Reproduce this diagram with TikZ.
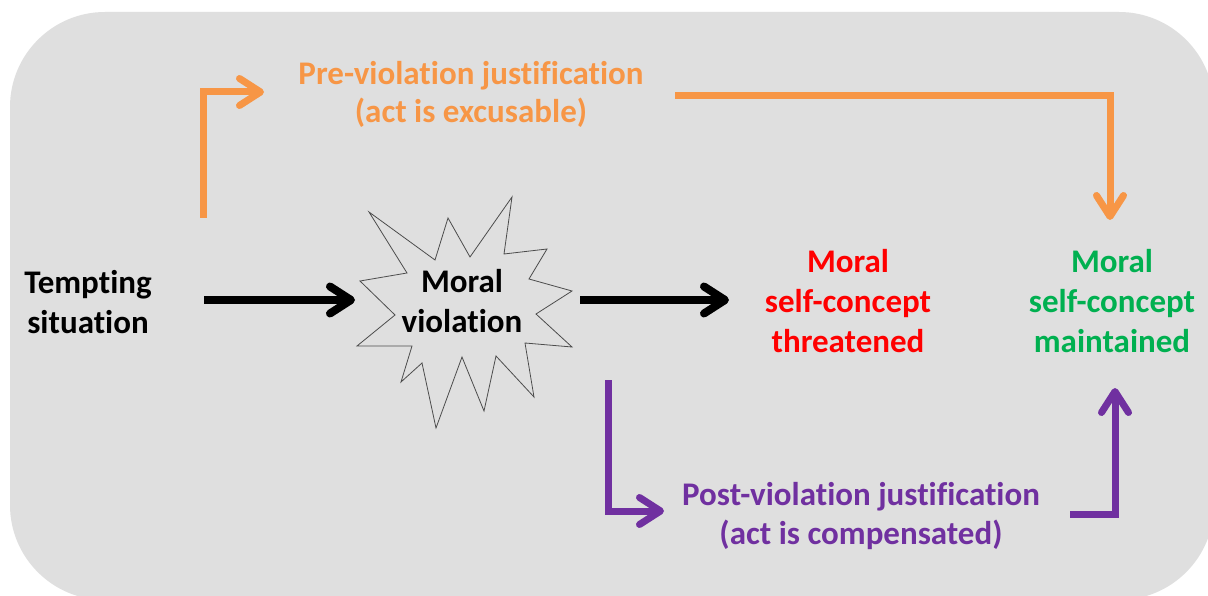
\documentclass[tikz,border=0pt]{standalone}
\usepackage{fontspec}
\setmainfont[Ligatures={NoCommon}]{Carlito}
\usetikzlibrary{arrows.meta}
\definecolor{bgc}{HTML}{DFDFDF}
\definecolor{orng}{HTML}{F79646}
\definecolor{purp}{HTML}{7030A0}
\definecolor{redc}{HTML}{FF0000}
\definecolor{grnc}{HTML}{00B050}
\begin{document}
\begin{tikzpicture}[x=1pt,y=-1pt,
  lbl/.style={font=\bfseries\fontsize{33}{40}\selectfont, align=center, inner sep=0pt},
  conn/.style={line width=#1, line join=miter,
    -{Straight Barb[length=21pt, width=27pt, line cap=round, line join=round]}},
  blkarrow/.style={conn=8pt, black},
  orarrow/.style={conn=7pt, orng},
  puarrow/.style={conn=7pt, purp}]
\useasboundingbox (0,0) rectangle (1208,596);
\fill[white] (0,0) rectangle (1208,596);
\fill[bgc, rounded corners=95pt] (10,12) rectangle (1214,600);

% starburst
\draw[gray!60!black, line width=0.8pt, line join=miter]
  (369,212) -- (435,260) -- (448,218) -- (470,257) -- (512,197) -- (504,254)
  -- (547,249) -- (529,279) -- (572,291) -- (536,314) -- (572,347) -- (525,343)
  -- (534,397) -- (496,356) -- (484,411) -- (462,357) -- (436,428) -- (422,363)
  -- (401,382) -- (412,346) -- (357,346) -- (395,315) -- (360,281) -- (407,273)
  -- cycle;

\node[lbl] (tempt) at (88,302) {Tempting\\situation};
\node[lbl] (viol) at (462,301) {Moral\\violation};
\node[lbl, text=redc] (threat) at (848,301) {Moral\\self-concept\\threatened};
\node[lbl, text=grnc] (maint) at (1112,301) {Moral\\self-concept\\maintained};
\node[lbl, text=orng, font=\bfseries\fontsize{33}{38}\selectfont] (pre) at (471,94) {Pre-violation justification\\(act is excusable)};
\node[lbl, text=purp, font=\bfseries\fontsize{33}{39}\selectfont] (post) at (861,516) {Post-violation justification\\(act is compensated)};

\coordinate (b1s) at (204,300);
\coordinate (b1e) at (355,300);
\coordinate (b2s) at (580,300);
\coordinate (b2e) at (729,300);
\coordinate (o1s) at (203,218);
\coordinate (o1c) at (203,92);
\coordinate (o1e) at (264,92);
\coordinate (o2s) at (675,96);
\coordinate (o2c) at (1110,96);
\coordinate (o2e) at (1110,220);
\coordinate (p1s) at (608,380);
\coordinate (p1c) at (608,511);
\coordinate (p1e) at (664,511);
\coordinate (p2s) at (1070,514);
\coordinate (p2c) at (1115,514);
\coordinate (p2e) at (1115,388);

\draw[blkarrow] (b1s) -- (b1e);
\draw[blkarrow] (b2s) -- (b2e);
\draw[orarrow] (o1s) -- (o1c) -- (o1e);
\draw[orarrow] (o2s) -- (o2c) -- (o2e);
\draw[puarrow] (p1s) -- (p1c) -- (p1e);
\draw[puarrow] (p2s) -- (p2c) -- (p2e);
\end{tikzpicture}
\end{document}
